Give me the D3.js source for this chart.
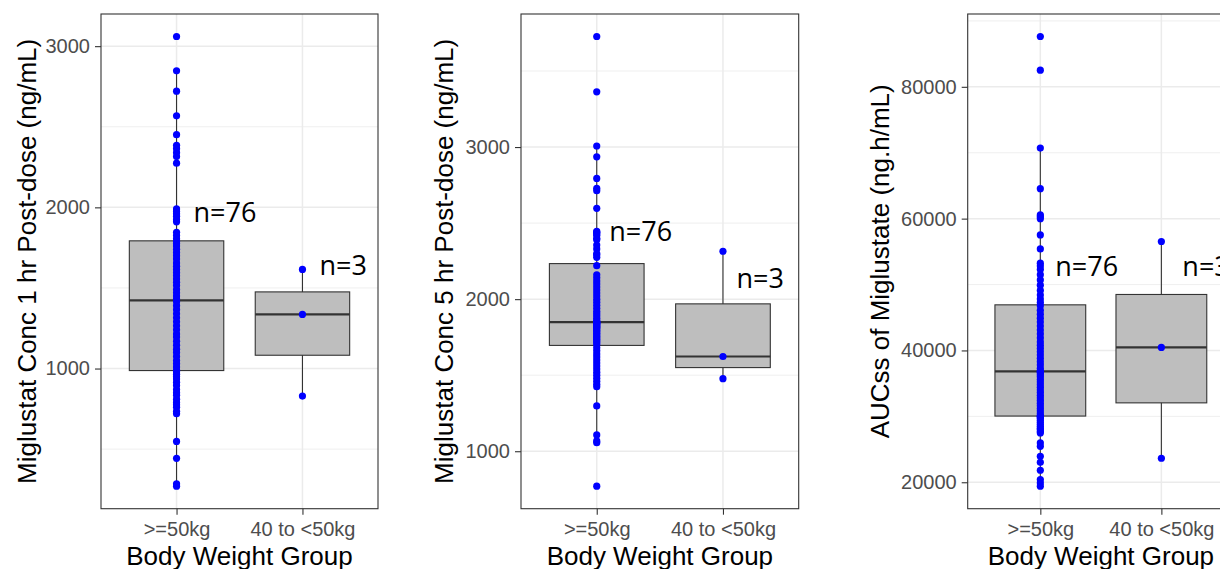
<!DOCTYPE html>
<html>
<head>
<meta charset="utf-8">
<script src="https://cdn.jsdelivr.net/npm/d3@7"></script>
<style>
  body { margin: 0; background: #fff; }
  svg { display: block; }
</style>
</head>
<body>
<svg id="chart"></svg>
<script>
var width = 1220;
var height = 569;

// body weight groups (x categories)
var groups = [">=50kg", "40 to <50kg"];
var nLabels = ["n=76", "n=3"];

// Miglustat Conc 1 hr post-dose (ng/mL)
var conc1Heavy = [270, 285, 443, 548, 720, 735, 760, 775, 790, 810,
  835, 850, 870, 895, 915, 935, 950, 965, 980, 990,
  1010, 1030, 1050, 1075, 1100, 1120, 1145, 1170, 1195, 1215,
  1240, 1265, 1290, 1315, 1340, 1365, 1390, 1415, 1431, 1450,
  1470, 1490, 1515, 1535, 1555, 1575, 1595, 1615, 1635, 1655,
  1680, 1700, 1720, 1740, 1760, 1775, 1788, 1805, 1825, 1845,
  1910, 1925, 1945, 1960, 1975, 1990, 2274, 2315, 2339, 2364,
  2385, 2451, 2568, 2721, 2847, 3060];
var conc1Light = [829, 1336, 1615];

// Miglustat Conc 5 hr post-dose (ng/mL)
var conc5Heavy = [770, 1056, 1068, 1107, 1298, 1424, 1440, 1460, 1480, 1500,
  1520, 1540, 1560, 1580, 1600, 1620, 1640, 1660, 1680, 1701,
  1715, 1725, 1735, 1745, 1755, 1765, 1775, 1785, 1795, 1805,
  1812, 1818, 1824, 1830, 1836, 1840, 1844, 1847, 1851, 1860,
  1875, 1890, 1905, 1920, 1940, 1960, 1980, 2000, 2020, 2040,
  2060, 2080, 2100, 2120, 2140, 2160, 2220, 2275, 2290, 2300,
  2330, 2356, 2390, 2400, 2420, 2430, 2440, 2445, 2597, 2713,
  2729, 2794, 2936, 3007, 3363, 3727];
var conc5Light = [1477, 1623, 2315];

// AUCss of Miglustate (ng.h/mL)
var aucHeavy = [19400, 19900, 20400, 21820, 23030, 23940, 25450, 25970,
  27480, 27700, 28000, 28200, 28500, 28800, 29100, 29400, 29700, 29900,
  30000, 30060,
  30400, 30800, 31200, 31600, 32000, 32400, 32800, 33200, 33600, 34000,
  34400, 34800, 35200, 35600, 36000, 36300, 36600, 36780,
  36860,
  37300, 37800, 38300, 38800, 39300, 39800, 40300, 40800, 41300, 41900,
  42500, 43100, 43700, 44300, 44900, 45500, 46100,
  46800, 47280,
  47800, 48400, 49100, 49900, 50700, 51500, 52300, 52800, 53240, 55410,
  57530, 60000, 60300, 60560, 64545, 70712, 82530, 87636];
var aucLight = [23640, 40455, 56530];

var yTicks1 = [1000, 2000, 3000];
var yTicks2 = [1000, 2000, 3000];
var yTicks3 = [20000, 40000, 60000, 80000];
var yMinor1 = [500, 1500, 2500];
var yMinor2 = [1500, 2500, 3500];
var yMinor3 = [30000, 50000, 70000, 90000];

var panels = [
  {series: [conc1Heavy, conc1Light], ticks: yTicks1, minor: yMinor1,
   title: "Miglustat Conc 1 hr Post-dose (ng/mL)",
   left: 101, right: 378, titleX: 35.5,
   labelY: [1908, 1582], labelDx: [17, 17]},
  {series: [conc5Heavy, conc5Light], ticks: yTicks2, minor: yMinor2,
   title: "Miglustat Conc 5 hr Post-dose (ng/mL)",
   left: 521, right: 798.7, titleX: 453,
   labelY: [2381, 2075], labelDx: [12.5, 13.5]},
  {series: [aucHeavy, aucLight], ticks: yTicks3, minor: yMinor3,
   title: "AUCss of Miglustate (ng.h/mL)",
   left: 967.7, right: 1234, titleX: 889,
   labelY: [51260, 51260], labelDx: [15, 21]}
];

var plotTop = 14, plotBottom = 508.7;
var dark = "#333333";

var svg = d3.select("#chart")
  .attr("width", width)
  .attr("height", height)
  .style("font-family", "'Liberation Sans', Arial, sans-serif");

function boxStats(vals) {
  var s = vals.slice().sort(d3.ascending);
  var q1 = d3.quantileSorted(s, 0.25);
  var med = d3.quantileSorted(s, 0.5);
  var q3 = d3.quantileSorted(s, 0.75);
  var iqr = q3 - q1;
  var lo = d3.min(s.filter(function(v){ return v >= q1 - 1.5 * iqr; }));
  var hi = d3.max(s.filter(function(v){ return v <= q3 + 1.5 * iqr; }));
  return {q1: q1, med: med, q3: q3, lo: lo, hi: hi};
}

panels.forEach(function(p) {
  var w = p.right - p.left;
  var all = d3.merge(p.series);
  var ext = d3.extent(all);
  var pad = (ext[1] - ext[0]) * 0.05;

  var x = d3.scalePoint().domain(groups).range([p.left, p.right]).padding(0.6);
  var y = d3.scaleLinear().domain([ext[0] - pad, ext[1] + pad]).range([plotBottom, plotTop]);
  var boxW = x.step() * 0.75;

  var g = svg.append("g");

  // grid
  g.selectAll(".minor").data(p.minor.filter(function(v){ return y(v) > plotTop && y(v) < plotBottom; }))
    .enter().append("line")
    .attr("x1", p.left).attr("x2", p.right)
    .attr("y1", function(d){ return y(d); }).attr("y2", function(d){ return y(d); })
    .attr("stroke", "#EBEBEB").attr("stroke-width", 0.8);
  g.selectAll(".major").data(p.ticks)
    .enter().append("line")
    .attr("x1", p.left).attr("x2", p.right)
    .attr("y1", function(d){ return y(d); }).attr("y2", function(d){ return y(d); })
    .attr("stroke", "#EBEBEB").attr("stroke-width", 1.5);
  g.selectAll(".vmajor").data(groups)
    .enter().append("line")
    .attr("x1", function(d){ return x(d); }).attr("x2", function(d){ return x(d); })
    .attr("y1", plotTop).attr("y2", plotBottom)
    .attr("stroke", "#EBEBEB").attr("stroke-width", 1.5);

  // boxes
  p.series.forEach(function(vals, i) {
    var st = boxStats(vals);
    var cx = x(groups[i]);
    g.append("line")
      .attr("x1", cx).attr("x2", cx)
      .attr("y1", y(st.hi)).attr("y2", y(st.lo))
      .attr("stroke", dark).attr("stroke-width", 1.1);
    g.append("rect")
      .attr("x", cx - boxW / 2).attr("width", boxW)
      .attr("y", y(st.q3)).attr("height", y(st.q1) - y(st.q3))
      .attr("fill", "#BEBEBE").attr("stroke", dark).attr("stroke-width", 1.1);
    g.append("line")
      .attr("x1", cx - boxW / 2).attr("x2", cx + boxW / 2)
      .attr("y1", y(st.med)).attr("y2", y(st.med))
      .attr("stroke", dark).attr("stroke-width", 2.2);
  });

  // points
  p.series.forEach(function(vals, i) {
    g.selectAll(".pt" + i).data(vals)
      .enter().append("circle")
      .attr("cx", x(groups[i]))
      .attr("cy", function(d){ return y(d); })
      .attr("r", 3.6)
      .attr("fill", "#0000FF");
  });

  // panel border
  g.append("rect")
    .attr("x", p.left).attr("y", plotTop)
    .attr("width", w).attr("height", plotBottom - plotTop)
    .attr("fill", "none").attr("stroke", dark).attr("stroke-width", 1.1);

  // axes
  var yaxis = d3.axisLeft(y).tickValues(p.ticks).tickSize(6).tickPadding(5)
    .tickFormat(d3.format("d"));
  var ya = g.append("g").attr("transform", "translate(" + p.left + ",0)").call(yaxis);
  ya.select(".domain").remove();
  ya.selectAll("line").attr("stroke", dark).attr("stroke-width", 1.1);
  ya.selectAll("text").attr("fill", "#4D4D4D").style("font-size", "20px")
    .style("font-family", "'Liberation Sans', Arial, sans-serif");

  var xaxis = d3.axisBottom(x).tickSize(6).tickPadding(5);
  var xa = g.append("g").attr("transform", "translate(0," + plotBottom + ")").call(xaxis);
  xa.select(".domain").remove();
  xa.selectAll("line").attr("stroke", dark).attr("stroke-width", 1.1);
  xa.selectAll("text").attr("fill", "#4D4D4D").style("font-size", "20px")
    .style("font-family", "'Liberation Sans', Arial, sans-serif")
    .attr("dy", null).attr("y", 27.8);

  // axis titles
  g.append("text")
    .attr("transform", "translate(" + p.titleX + "," + ((plotTop + plotBottom) / 2) + ") rotate(-90)")
    .attr("text-anchor", "middle")
    .style("font-size", "26px")
    .attr("fill", "#000")
    .text(p.title);
  g.append("text")
    .attr("x", (p.left + p.right) / 2).attr("y", 565.3)
    .attr("text-anchor", "middle")
    .style("font-size", "26px")
    .attr("fill", "#000")
    .text("Body Weight Group");

  // n labels
  nLabels.forEach(function(lab, i) {
    g.append("text")
      .attr("x", x(groups[i]) + p.labelDx[i])
      .attr("y", y(p.labelY[i]))
      .style("font-family", "'Open Sans', sans-serif")
      .style("font-size", "27px")
      .attr("fill", "#000")
      .text(lab);
  });
});
</script>
</body>
</html>
